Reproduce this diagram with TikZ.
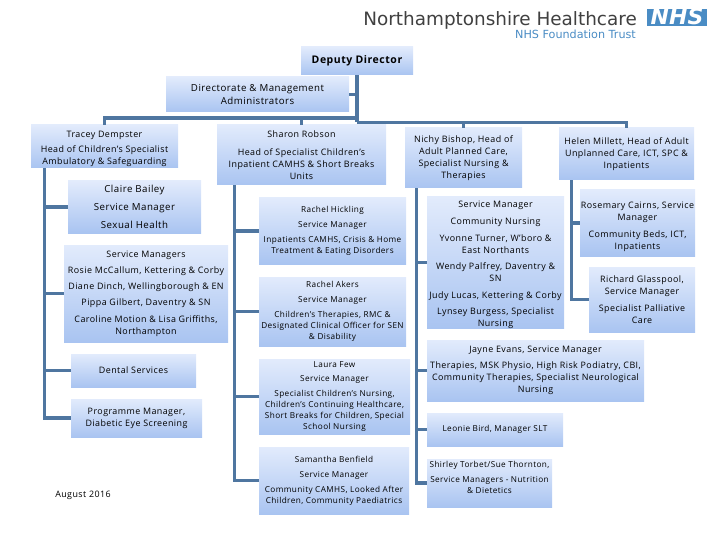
\documentclass[tikz,border=0pt]{standalone}
\usepackage{fontspec}
\setmainfont[LetterSpace=5]{Open Sans}
\newfontfamily\logofont{DejaVu Sans}
\definecolor{linkblue}{HTML}{4F76A0}
\definecolor{boxtop}{HTML}{E2EBFC}
\definecolor{boxbottom}{HTML}{A9C4F1}
\definecolor{logogrey}{HTML}{404040}
\definecolor{logoblue}{HTML}{4A8CC4}
\tikzset{
  box/.style={top color=boxtop, bottom color=boxbottom, align=center, inner sep=0pt,
    font=\fontsize{8.9}{12}\selectfont},
  smallbox/.style={box, font=\fontsize{8.2}{11}\selectfont},
  bigbox/.style={box, font=\fontsize{9.7}{12.5}\selectfont},
  link/.style={draw=linkblue, line width=3.2pt}
}
\begin{document}
\begin{tikzpicture}[x=1pt, y=-1pt]
    \useasboundingbox (0,0) rectangle (720,540);

    % Logo
    \node[font=\logofont\fontsize{18.4}{19}\selectfont, text=logogrey, anchor=east, inner sep=0pt] (trustname) at (637,20) {Northamptonshire Healthcare};
    \node[font=\logofont\fontsize{11.2}{12}\selectfont, text=logoblue, anchor=east, inner sep=0pt] (trustsub) at (636,34) {NHS Foundation Trust};
    \node[fill=logoblue, text=white, font=\logofont\fontsize{22}{22}\selectfont\bfseries\itshape, minimum width=60pt, minimum height=17pt, inner sep=0pt, text height=15pt, text depth=0pt] (nhs) at (677,17.5) {NHS};

    % Top of the tree
    \node[box, minimum width=112pt, minimum height=28pt, font=\fontsize{10.5}{12}\selectfont\bfseries] (deputy) at (357,61) {Deputy Director};
    \node[bigbox, minimum width=183pt, minimum height=35pt] (admin) at (257.5,94.5) {Directorate \& Management\\Administrators};
    \coordinate (busleft) at (357,118);
    \coordinate (busright) at (357,122.5);

    % Heads
    \node[box, minimum width=147pt, minimum height=43pt] (tracey) at (104.5,146.5) {\rule{0pt}{11pt}Tracey Dempster\\[3.5pt]Head of Children's Specialist\\Ambulatory \& Safeguarding};
    \node[box, minimum width=169pt, minimum height=60pt] (sharon) at (301.5,155) {Sharon Robson\\[5.5pt]Head of Specialist Children's\\Inpatient CAMHS \& Short Breaks\\Units};
    \node[box, minimum width=117pt, minimum height=60pt] (nichy) at (463.5,158) {Nichy Bishop, Head of\\Adult Planned Care,\\Specialist Nursing \&\\Therapies};
    \node[box, minimum width=135pt, minimum height=52pt] (helen) at (626.5,154) {Helen Millett, Head of Adult\\Unplanned Care, ICT, SPC \&\\Inpatients};

    % Tracey's team
    \node[bigbox, minimum width=133pt, minimum height=52pt, font=\fontsize{9.7}{18}\selectfont] (claire) at (134.5,207) {Claire Bailey\\Service Manager\\Sexual Health};
    \node[box, minimum width=164pt, minimum height=97pt] (managers) at (146,293.5) {Service Managers\\[4.3pt]Rosie McCallum, Kettering \& Corby\\[4.3pt]Diane Dinch, Wellingborough \& EN\\[4.3pt]Pippa Gilbert, Daventry \& SN\\[4.3pt]Caroline Motion \& Lisa Griffiths,\\Northampton};
    \node[box, minimum width=125pt, minimum height=33pt] (dental) at (133.5,370.5) {Dental Services};
    \node[box, minimum width=131pt, minimum height=38pt] (diabetic) at (136.5,418) {Programme Manager,\\Diabetic Eye Screening};
    \node[font=\fontsize{8.9}{11}\selectfont, inner sep=0pt] (date) at (83,495) {August 2016};

    % Sharon's team
    \node[smallbox, minimum width=147pt, minimum height=66pt] (hickling) at (332.5,231) {Rachel Hickling\\[4pt]Service Manager\\[4pt]Inpatients CAMHS, Crisis \& Home\\Treatment \& Eating Disorders};
    \node[smallbox, minimum width=147pt, minimum height=69pt] (akers) at (332.5,311.5) {Rachel Akers\\[4pt]Service Manager\\[4pt]Children's Therapies, RMC \&\\Designated Clinical Officer for SEN\\\& Disability};
    \node[smallbox, minimum width=151pt, minimum height=75pt] (few) at (334.5,396.5) {Laura Few\\[3.5pt]Service Manager\\[3.5pt]Specialist Children's Nursing,\\Children's Continuing Healthcare,\\Short Breaks for Children, Special\\School Nursing};
    \node[smallbox, minimum width=150pt, minimum height=67pt] (benfield) at (334,480.5) {Samantha Benfield\\[4pt]Service Manager\\[4pt]Community CAMHS, Looked After\\Children, Community Paediatrics};

    % Nichy's team
    \node[box, inner ysep=-4pt, minimum width=137pt, minimum height=131pt] (community) at (495.5,262.5) {\rule{0pt}{12pt}Service Manager\\[4.5pt]Community Nursing\\[5pt]Yvonne Turner, W'boro \&\\East Northants\\[4.5pt]Wendy Palfrey, Daventry \&\\SN\\[4.5pt]Judy Lucas, Kettering \& Corby\\[4.5pt]Lynsey Burgess, Specialist\\Nursing};
    \node[box, minimum width=217pt, minimum height=61pt] (jayne) at (535.5,370.5) {Jayne Evans, Service Manager\\[4pt]Therapies, MSK Physio, High Risk Podiatry, CBI,\\Community Therapies, Specialist Neurological\\Nursing};
    \node[smallbox, minimum width=136pt, minimum height=33pt] (leonie) at (495,429.5) {Leonie Bird, Manager SLT};
    \node[smallbox, minimum width=125pt, minimum height=48pt] (shirley) at (489.5,483) {Shirley Torbet/Sue Thornton,\\[4pt]Service Managers - Nutrition\\\& Dietetics\\[1pt]{}};

    % Helen's team
    \node[box, minimum width=115pt, minimum height=66pt] (rosemary) at (637.5,223) {\rule{0pt}{14pt}Rosemary Cairns, Service\\Manager\\[5pt]Community Beds, ICT,\\Inpatients};
    \node[box, minimum width=106pt, minimum height=65pt] (richard) at (642,299.5) {Richard Glasspool,\\Service Manager\\[5pt]Specialist Palliative\\Care};

    % Connectors
    \draw[link] (deputy.south) -- (busright);
    \draw[link] (admin.east) -- (admin.east -| deputy.south);
    \draw[link] (busleft) -| (tracey.north);
    \draw[link] (busleft) -| (sharon.north);
    \draw[link] (busright) -| (nichy.north);
    \draw[link] (busright) -| (helen.north);

    \draw[link] ([xshift=14pt]tracey.south west) |- (claire.west);
    \draw[link] ([xshift=14pt]tracey.south west) |- (managers.west);
    \draw[link] ([xshift=14pt]tracey.south west) |- (dental.west);
    \draw[link] ([xshift=14pt]tracey.south west) |- (diabetic.west);

    \draw[link] ([xshift=17.5pt]sharon.south west) |- (hickling.west);
    \draw[link] ([xshift=17.5pt]sharon.south west) |- (akers.west);
    \draw[link] ([xshift=17.5pt]sharon.south west) |- (few.west);
    \draw[link] ([xshift=17.5pt]sharon.south west) |- (benfield.west);

    \draw[link] ([xshift=12pt]nichy.south west) |- (community.west);
    \draw[link] ([xshift=12pt]nichy.south west) |- (jayne.west);
    \draw[link] ([xshift=12pt]nichy.south west) |- (leonie.west);
    \draw[link] ([xshift=12pt]nichy.south west) |- (shirley.west);

    \draw[link] ([xshift=13pt]helen.south west) |- (rosemary.west);
    \draw[link] ([xshift=13pt]helen.south west) |- (richard.west);
\end{tikzpicture}
\end{document}
